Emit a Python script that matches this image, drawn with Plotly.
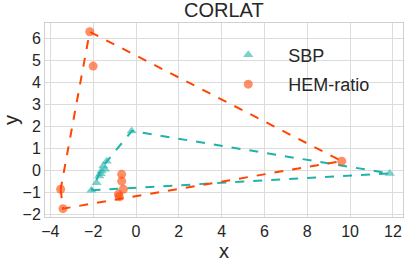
import plotly.graph_objects as go

# Data
sbp_x = [11.85, -0.2, -2.08, -1.37, -1.53, -1.61, -1.72, -1.84, -1.45, -1.65]
sbp_y = [-0.14, 1.79, -0.9, 0.42, 0.2, -0.03, -0.26, -0.56, 0.05, -0.15]
hem_x = [-2.16, -2.0, -3.52, -3.41, -0.67, -0.67, -0.59, -0.82, -0.78, 9.61]
hem_y = [6.3, 4.74, -0.86, -1.74, -0.18, -0.49, -0.86, -1.09, -1.2, 0.42]

def hull(xs, ys):
    pts = sorted(set(zip(xs, ys)))
    def cross(o, a, b):
        return (a[0]-o[0])*(b[1]-o[1]) - (a[1]-o[1])*(b[0]-o[0])
    lower, upper = [], []
    for p in pts:
        while len(lower) >= 2 and cross(lower[-2], lower[-1], p) <= 0:
            lower.pop()
        lower.append(p)
    for p in reversed(pts):
        while len(upper) >= 2 and cross(upper[-2], upper[-1], p) <= 0:
            upper.pop()
        upper.append(p)
    h = lower[:-1] + upper[:-1]
    h.append(h[0])
    return [p[0] for p in h], [p[1] for p in h]

teal = "#20b2aa"
orange = "#ff4500"

fig = go.Figure()
hx, hy = hull(sbp_x, sbp_y)
fig.add_trace(go.Scatter(x=hx, y=hy, mode="lines", line=dict(color=teal, dash="dash", width=2), showlegend=False))
hx2, hy2 = hull(hem_x, hem_y)
fig.add_trace(go.Scatter(x=hx2, y=hy2, mode="lines", line=dict(color=orange, dash="dash", width=2), showlegend=False))
fig.add_trace(go.Scatter(x=sbp_x, y=sbp_y, mode="markers", name="SBP", legendgroup="a",
                         marker=dict(symbol="triangle-up", size=9, color=teal, opacity=0.6)))
fig.add_trace(go.Scatter(x=hem_x, y=hem_y, mode="markers", name="HEM-ratio", legendgroup="b",
                         marker=dict(symbol="circle", size=9, color=orange, opacity=0.6)))

axis_common = dict(showgrid=True, gridcolor="#dcdcdc", gridwidth=1, showline=True, mirror=True,
                   linecolor="#d0d0d0", linewidth=1, zeroline=False, ticks="", automargin=False,
                   tickfont=dict(size=16, color="#262626"))
fig.update_layout(
    width=407, height=262,
    margin=dict(l=45, r=4, t=23, b=45),
    paper_bgcolor="white", plot_bgcolor="white",
    font=dict(family="Liberation Sans", color="#262626"),
    title=dict(text="CORLAT", x=0.55, xanchor="center", y=0.99, yanchor="top", font=dict(size=20)),
    xaxis=dict(range=[-4.25, 12.47], tickvals=[-4, -2, 0, 2, 4, 6, 8, 10, 12],
               ticktext=["−4", "−2", "0", "2", "4", "6", "8", "10", "12"],
               title=dict(text="x", font=dict(size=20)), **axis_common),
    yaxis=dict(range=[-2.12, 6.7], tickvals=[-2, -1, 0, 1, 2, 3, 4, 5, 6],
               ticktext=["−2", "−1", "0", "1", "2", "3", "4", "5", "6"],
               title=dict(text="y", font=dict(size=20)), **axis_common),
    legend=dict(x=0.456, y=0.93, xanchor="left", yanchor="top", bgcolor="rgba(255,255,255,0)",
                font=dict(size=18), traceorder="grouped", tracegroupgap=3, itemwidth=70),
)
fig.write_html("out.html", config={"displayModeBar": False},
               post_script="document.body.style.margin='0';")
